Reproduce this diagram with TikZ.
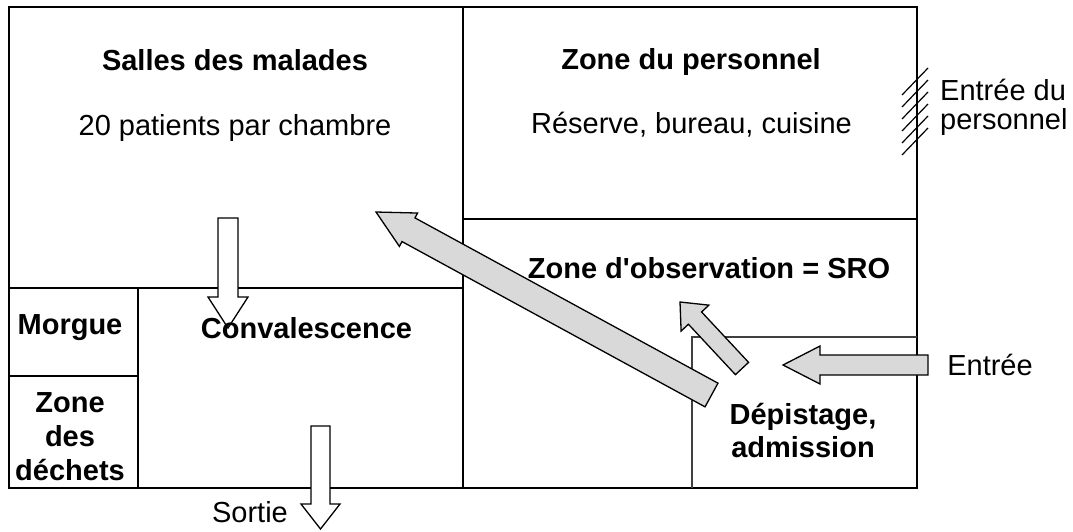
\documentclass[tikz,border=0pt]{standalone}
\usepackage{fontspec}
\setmainfont{Liberation Sans}
\usetikzlibrary{calc}
\tikzset{
  wall/.style={line width=2pt, line cap=rect},
  thinwall/.style={line width=1.4pt, draw=black!75},
  greyarrow/.style={draw=black, line width=1.3pt, fill=black!15, line join=miter},
  whitearrow/.style={draw=black, line width=1.3pt, fill=white, line join=miter},
  lbl/.style={inner sep=0pt, font=\fontsize{29}{34}\selectfont, align=center},
  blbl/.style={inner sep=0pt, font=\fontsize{29}{34}\selectfont\bfseries, align=center},
  hatchline/.style={line width=1.2pt}
}
\newcommand\straightquote{\XeTeXglyph\XeTeXglyphindex "quotesingle"\relax}
% #1 style, #2 tail, #3 tip, #4 half shaft width, #5 half head width, #6 head length
\newcommand\myblockarrow[6]{%
  \coordinate (ba-b) at ($(#3)!#6!(#2)$);
  \draw[#1] ($(#2)!#4!90:(#3)$) -- ($(ba-b)!#4!90:(#3)$) -- ($(ba-b)!#5!90:(#3)$)
    -- (#3) -- ($(ba-b)!#5!-90:(#3)$) -- ($(ba-b)!#4!-90:(#3)$) -- ($(#2)!#4!-90:(#3)$) -- cycle;}
\begin{document}
\begin{tikzpicture}[x=1pt,y=-1pt]
\useasboundingbox (0,0) rectangle (1073,531);
% walls
\coordinate (tl) at (9,7);
\coordinate (br) at (917,488);
\draw[wall] (tl) rectangle (br);
\draw[wall] (463,7) -- (463,488);
\draw[wall] (9,288) -- (463,288);
\draw[wall] (463,219) -- (917,219);
\draw[wall] (138,288) -- (138,488);
\draw[wall] (9,376) -- (138,376);
\draw[thinwall] (917,337) -- (692,337) -- (692,488);
% hatching (staff entrance)
\foreach \i in {0,...,5}{
  \draw[hatchline] (902,{95+12*\i}) -- (928,{68+12*\i});
}
% arrows
\coordinate (a1t) at (228,218); \coordinate (a1p) at (228,328);
\myblockarrow{whitearrow}{a1t}{a1p}{10pt}{20pt}{31pt}
\coordinate (a2t) at (320.5,426); \coordinate (a2p) at (320.5,529);
\myblockarrow{whitearrow}{a2t}{a2p}{9.5pt}{19.5pt}{25pt}
\coordinate (a3t) at (928,365); \coordinate (a3p) at (783,365);
\myblockarrow{greyarrow}{a3t}{a3p}{10pt}{19pt}{37pt}
\coordinate (a4t) at (742,368.5); \coordinate (a4p) at (680,302);
\myblockarrow{greyarrow}{a4t}{a4p}{9pt}{19pt}{22pt}
\coordinate (a5t) at (711.5,395); \coordinate (a5p) at (376,212);
\myblockarrow{greyarrow}{a5t}{a5p}{13.5pt}{19pt}{37pt}
% labels
\node[blbl] (salles) at (235,60) {Salles des malades};
\node[lbl] (salles2) at (235,128) {20 patients par chambre};
\node[blbl] (perso) at (691,62) {Zone du personnel};
\node[lbl] (perso2) at (691.5,125) {Réserve, bureau, cuisine};
\node[blbl] (obs) at (709,268) {Zone d\straightquote observation = SRO};
\node[blbl] (morgue) at (70,328) {Morgue};
\node[blbl] (dechets) at (70,437) {Zone\\[0pt]des\\[0pt]déchets};
\node[blbl] (conv) at (306.5,328) {Convalescence};
\node[blbl] (depist) at (803,430) {Dépistage,\\[-1pt]admission};
\node[lbl] (entree) at (990,365) {Entrée};
\node[lbl] (sortie) at (250,512) {Sortie};
\node[lbl, anchor=west, align=left] (entperso) at (940,107) {Entrée du\\[-5pt]personnel};
\end{tikzpicture}
\end{document}
